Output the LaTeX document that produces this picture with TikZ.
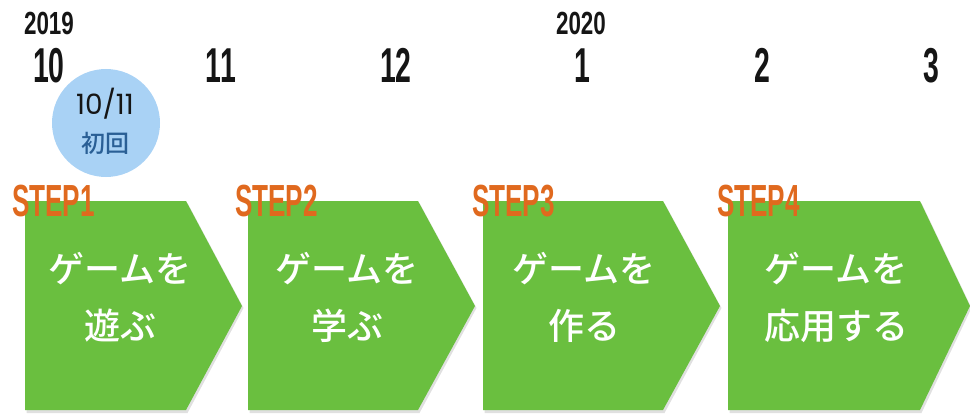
\documentclass[tikz,border=0pt]{standalone}
\usepackage{fontspec}
\newfontfamily\cjk{Noto Sans CJK JP}
\newfontfamily\cjkmed{Noto Sans CJK JP Medium}
\newfontfamily\condf[FakeStretch=0.58]{Liberation Sans}
\newfontfamily\yearf[FakeStretch=0.7]{Liberation Sans}
\newfontfamily\roundf{Poppins}
\definecolor{stepgreen}{HTML}{6ABF3F}
\definecolor{steporange}{HTML}{E0691E}
\definecolor{circblue}{HTML}{A9D2F5}
\definecolor{darkblue}{HTML}{2A5F95}
\definecolor{nearblack}{HTML}{151515}
\tikzset{
  chevfill/.style={fill=stepgreen},
  chevshadow/.style={fill=black, opacity=0.12},
  monthlbl/.style={font=\condf\bfseries\fontsize{49}{49}\selectfont, text=nearblack, anchor=base, inner sep=0pt},
  yearlbl/.style={font=\yearf\bfseries\fontsize{32}{32}\selectfont, text=nearblack, anchor=base, inner sep=0pt},
  steplbl/.style={font=\condf\bfseries\fontsize{45}{45}\selectfont, text=steporange, anchor=base west, inner sep=0pt},
  chevtext/.style={font=\cjkmed\fontsize{36}{57}\selectfont, text=white, align=center, inner sep=0pt},
}
\begin{document}
\begin{tikzpicture}[x=1pt,y=-1pt]
\useasboundingbox (0,0) rectangle (970,420);
% chevrons: shadows
\foreach \l/\r/\p in {25/186/242, 248/418/475, 483/663/720, 728/920/970} {
  \fill[chevshadow] (\l+1.5,203) -- (\r+1.5,203) -- (\p+1.5,308) -- (\r+1.5,413) -- (\l+1.5,413) -- cycle;
}
% chevrons
\foreach \l/\r/\p in {25/186/242, 248/418/475, 483/663/720, 728/920/970} {
  \fill[chevfill] (\l,201) -- (\r,201) -- (\p,306) -- (\r,410) -- (\l,410) -- cycle;
}
% chevron texts
\node[chevtext] (t1) at (120,297) {ゲームを\\遊ぶ};
\node[chevtext] (t2) at (347,297) {ゲームを\\学ぶ};
\node[chevtext] (t3) at (584,297) {ゲームを\\作る};
\node[chevtext] (t4) at (836,297) {ゲームを\\応用する};
% step labels
\node[steplbl] (s1) at (12,216) {STEP1};
\node[steplbl] (s2) at (235,216) {STEP2};
\node[steplbl] (s3) at (472,216) {STEP3};
\node[steplbl] (s4) at (717,216) {STEP4};
% years
\node[yearlbl] (y2019) at (49,35) {2019};
\node[yearlbl] (y2020) at (581,35) {2020};
% months
\node[monthlbl] (m10) at (49,82) {10};
\node[monthlbl] (m11) at (221,82) {11};
\node[monthlbl] (m12) at (396,82) {12};
\node[monthlbl] (m1) at (582,82) {1};
\node[monthlbl] (m2) at (762,82) {2};
\node[monthlbl] (m3) at (931,82) {3};
% first session circle
\node[circle, fill=circblue, minimum size=108pt, inner sep=0pt] (first) at (106,123) {};
\node[font=\roundf\fontsize{28}{28}\selectfont, text=nearblack, anchor=base, inner sep=0pt] (date) at (105,114) {10/11};
\node[font=\cjkmed\fontsize{24}{24}\selectfont, text=darkblue, inner sep=0pt] (shokai) at (105,143) {初回};
\end{tikzpicture}
\end{document}
